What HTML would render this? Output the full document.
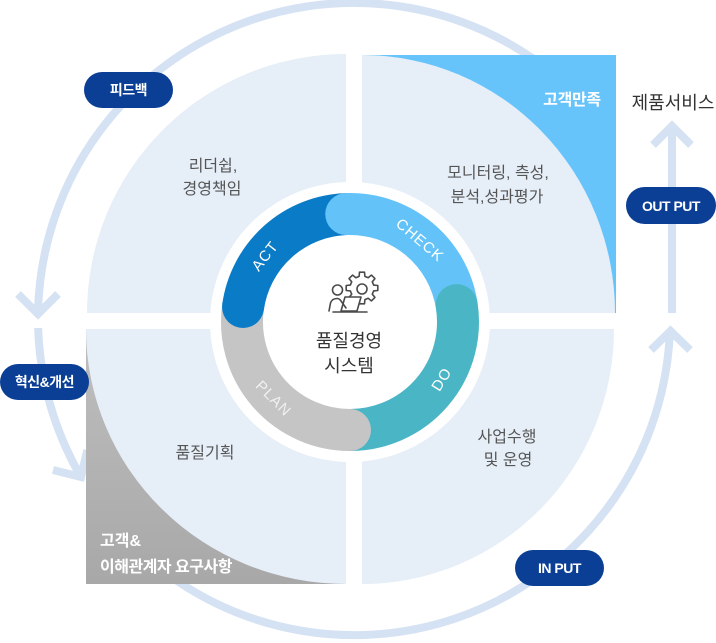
<!DOCTYPE html>
<html><head><meta charset="utf-8">
<style>
html,body{margin:0;padding:0;background:#fff;}
svg{display:block;}
text{font-family:"Liberation Sans","Noto Sans CJK KR",sans-serif;}
</style></head>
<body>
<svg width="716" height="643" viewBox="0 0 716 643" xmlns="http://www.w3.org/2000/svg">
<defs>
<linearGradient id="gg" x1="0" y1="0" x2="0" y2="1">
<stop offset="0" stop-color="#bfbfbf"/><stop offset="1" stop-color="#a8a8a8"/>
</linearGradient>
</defs>
<!-- outer flow arcs -->
<g fill="none" stroke="#d5e2f3" stroke-width="8">
<path d="M557.1,76.9 A316,316 0 0 0 38.1,309"/>
<path d="M18,294 L38,314 L58,294" stroke-linejoin="miter"/>
<path d="M38.1,328 A316,316 0 0 0 80.5,476"/>
<path d="M87.3,450 L81,477 L53,470" stroke-linejoin="miter"/>
<path d="M111.9,522.1 A316,316 0 0 0 669.6,337"/>
<path d="M651,350 L670.5,331 L690,350" stroke-linejoin="miter"/>
<path d="M672,313 L672,128"/>
<path d="M653,145 L672,126 L691,145" stroke-linejoin="miter"/>
</g>
<!-- quadrants -->
<path d="M346,313 L87,313 A259,259 0 0 1 346,54 Z" fill="#e6eef8"/>
<rect x="362" y="55" width="254" height="258" fill="#66c4fb"/>
<path d="M362,313 L362,55 A253,258 0 0 1 615,313 Z" fill="#e6eef8"/>
<rect x="86" y="329" width="260" height="255" fill="url(#gg)"/>
<path d="M346,329 L86,329 A260,255 0 0 0 346,584 Z" fill="#e6eef8"/>
<path d="M362,329 L614,329 A252,255 0 0 1 362,584 Z" fill="#e6eef8"/>
<!-- halo -->
<circle cx="350" cy="322" r="140" fill="#fff"/>
<!-- PDCA ring -->
<g fill="none" stroke-width="42">
<path d="M243.05,306.97 A108,108 0 0 1 346.23,214.07" stroke="#0a7bc6"/>
<path d="M346.23,214.07 A108,108 0 0 1 456.67,305.11" stroke="#63c3f8"/>
<path d="M456.67,305.11 A108,108 0 0 1 350,430" stroke="#4ab6c5"/>
<path d="M350,430 A108,108 0 0 1 243.05,306.97" stroke="#c5c5c5"/>
</g>
<circle cx="243.05" cy="306.97" r="21" fill="#0a7bc6"/>
<circle cx="346.23" cy="214.07" r="21" fill="#63c3f8"/>
<circle cx="456.67" cy="305.11" r="21" fill="#4ab6c5"/>
<circle cx="350" cy="430" r="21" fill="#c5c5c5"/>
<g fill="#fff" font-size="15" text-anchor="middle" letter-spacing="1">
<text transform="translate(265,256) rotate(-52)" y="5">ACT</text>
<text transform="translate(420,240) rotate(40.5)" y="5">CHECK</text>
<text transform="translate(441.6,379.2) rotate(-58)" y="5">DO</text>
<text transform="translate(273.6,398.4) rotate(45)" y="5" fill="#f0f0f0">PLAN</text>
</g>
<!-- icon -->
<g fill="none" stroke="#4a4a4a" stroke-width="1.6" stroke-linejoin="round" stroke-linecap="round">
<polygon transform="translate(362,288)" fill="#fff" points="11.64,-2.9 15.8,-2.5 15.8,2.5 11.64,2.9 10.29,6.18 12.94,9.4 9.4,12.94 6.18,10.29 2.9,11.64 2.5,15.8 -2.5,15.8 -2.9,11.64 -6.18,10.29 -9.4,12.94 -12.94,9.4 -10.29,6.18 -11.64,2.9 -15.8,2.5 -15.8,-2.5 -11.64,-2.9 -10.29,-6.18 -12.94,-9.4 -9.4,-12.94 -6.18,-10.29 -2.9,-11.64 -2.5,-15.8 2.5,-15.8 2.9,-11.64 6.18,-10.29 9.4,-12.94 12.94,-9.4 10.29,-6.18"/>
<circle cx="362" cy="289" r="5"/>
<path d="M345,297 L361,297 L357,311 L341,311 Z" fill="#fff"/>
<circle cx="337.5" cy="290" r="5" fill="#fff"/>
<path d="M329,311 L330.5,303 Q332,298.5 337,298.5 Q339.5,298.5 341,301 L346,308"/>
<path d="M333,312 L367,312"/>
</g>
<g fill="#333" font-size="18" text-anchor="middle">
<text x="349" y="347">품질경영</text>
<text x="349" y="372">시스템</text>
</g>
<!-- quadrant texts -->
<g fill="#555" font-size="16" text-anchor="middle">
<text x="213" y="171">리더쉽,</text>
<text x="212" y="194">경영책임</text>
<text x="498" y="178">모니터링, 측성,</text>
<text x="497" y="202">분석,성과평가</text>
<text x="205" y="458">품질기획</text>
<text x="507" y="442">사업수행</text>
<text x="508" y="465">및 운영</text>
</g>
<text x="673" y="109" fill="#333" font-size="18" text-anchor="middle">제품서비스</text>
<text x="572" y="105" fill="#fff" font-size="16" font-weight="bold" text-anchor="middle" letter-spacing="-0.3">고객만족</text>
<text x="100" y="546" fill="#fff" font-size="16" font-weight="bold">고객&amp;</text>
<text x="100" y="572" fill="#fff" font-size="16" font-weight="bold" letter-spacing="-0.5">이해관계자 요구사항</text>
<!-- pills -->
<g fill="#0b3f96">
<rect x="84" y="72" width="89" height="36" rx="18"/>
<rect x="0" y="364" width="89" height="36" rx="18"/>
<rect x="515" y="550" width="89" height="36" rx="18"/>
<rect x="626" y="187" width="90" height="37" rx="18.5"/>
</g>
<g fill="#fff" font-size="14" font-weight="bold" text-anchor="middle" letter-spacing="-0.5">
<text x="128.5" y="95">피드백</text>
<text x="44.5" y="387">혁신&amp;개선</text>
<text x="559.5" y="573">IN PUT</text>
<text x="671" y="211">OUT PUT</text>
</g>
</svg>
</body></html>
